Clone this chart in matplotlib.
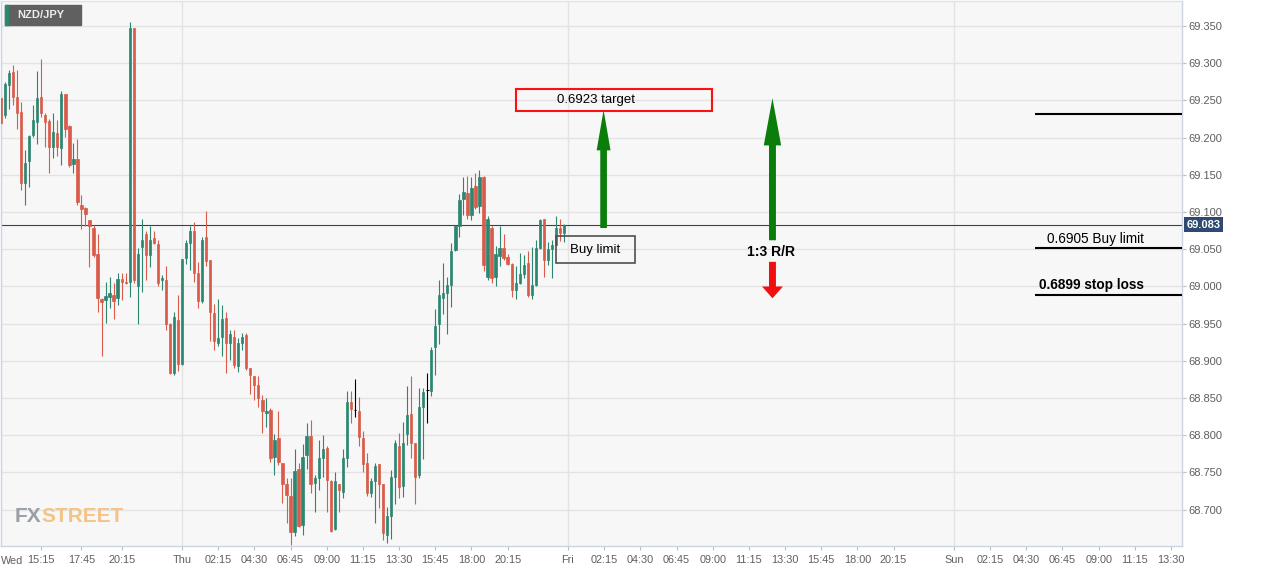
import matplotlib
matplotlib.use("Agg")
import matplotlib.pyplot as plt
from matplotlib.patches import Rectangle, FancyArrowPatch, ArrowStyle
from matplotlib.transforms import blended_transform_factory

plt.rcParams['font.family'] = ['Liberation Sans', 'DejaVu Sans']

# 15 minute candles, first one opens Wed 12:45 (minutes counted from Thu 00:00, Saturday skipped)
start_minute = -675
step = 15

opens = [69.253, 69.230, 69.271, 69.288, 69.255, 69.235, 69.139, 69.168, 69.203, 69.221,
         69.255, 69.231, 69.222, 69.187, 69.206, 69.186, 69.258, 69.216, 69.164, 69.171,
         69.110, 69.106, 69.089, 69.078, 69.043, 68.983, 68.982, 68.986, 68.988, 68.984,
         69.010, 69.006, 69.006, 69.347, 69.001, 69.053, 69.070, 69.042, 69.065, 69.057,
         69.008, 69.009, 68.950, 68.884, 68.955, 68.896, 69.038, 69.058, 69.074, 69.018,
         68.980, 69.066, 69.036, 68.964, 68.924, 68.932, 68.958, 68.924, 68.932, 68.893,
         68.924, 68.935, 68.891, 68.879, 68.868, 68.848, 68.830, 68.834, 68.771, 68.796,
         68.762, 68.734, 68.718, 68.670, 68.754, 68.679, 68.773, 68.799, 68.736, 68.742,
         68.769, 68.783, 68.738, 68.674, 68.734, 68.724, 68.769, 68.844, 68.834, 68.832,
         68.796, 68.763, 68.722, 68.739, 68.761, 68.734, 68.666, 68.691, 68.744, 68.785,
         68.732, 68.802, 68.829, 68.789, 68.746, 68.838, 68.861, 68.860, 68.918, 68.949,
         68.985, 68.991, 69.002, 69.049, 69.081, 69.118, 69.126, 69.096, 69.135, 69.108,
         69.147, 69.013, 69.078, 69.013, 69.041, 69.051, 69.039, 69.030, 68.995, 69.004,
         69.017, 69.032, 68.988, 69.002, 69.052, 69.090, 69.035, 69.050, 69.056, 69.078,
         69.072]
highs = [69.257, 69.275, 69.291, 69.298, 69.291, 69.248, 69.183, 69.203, 69.244, 69.289,
         69.305, 69.233, 69.225, 69.233, 69.224, 69.262, 69.258, 69.217, 69.193, 69.198,
         69.123, 69.107, 69.089, 69.083, 69.070, 68.984, 69.006, 69.013, 69.004, 69.018,
         69.018, 69.018, 69.356, 69.347, 69.051, 69.090, 69.074, 69.081, 69.075, 69.063,
         69.015, 69.027, 68.951, 68.965, 68.989, 69.037, 69.062, 69.081, 69.086, 69.033,
         69.066, 69.101, 69.036, 68.977, 68.983, 68.975, 68.966, 68.941, 68.942, 68.930,
         68.938, 68.938, 68.891, 68.879, 68.880, 68.854, 68.850, 68.836, 68.801, 68.832,
         68.762, 68.743, 68.742, 68.781, 68.763, 68.788, 68.816, 68.821, 68.747, 68.794,
         68.800, 68.786, 68.740, 68.750, 68.735, 68.781, 68.859, 68.859, 68.875, 68.852,
         68.805, 68.776, 68.742, 68.763, 68.761, 68.735, 68.703, 68.753, 68.794, 68.803,
         68.818, 68.866, 68.879, 68.789, 68.863, 68.863, 68.883, 68.919, 68.970, 69.009,
         69.031, 69.013, 69.058, 69.082, 69.124, 69.147, 69.148, 69.147, 69.152, 69.157,
         69.148, 69.094, 69.081, 69.054, 69.081, 69.071, 69.044, 69.031, 69.027, 69.045,
         69.042, 69.047, 69.053, 69.062, 69.090, 69.091, 69.060, 69.062, 69.094, 69.090,
         69.084]
lows = [69.217, 69.226, 69.238, 69.244, 69.211, 69.130, 69.109, 69.134, 69.201, 69.192,
        69.228, 69.188, 69.152, 69.173, 69.175, 69.163, 69.201, 69.161, 69.152, 69.109,
        69.077, 69.081, 69.026, 69.039, 68.966, 68.906, 68.951, 68.971, 68.956, 68.975,
        68.982, 69.003, 68.986, 69.004, 68.950, 68.992, 69.009, 69.026, 69.057, 69.001,
        68.995, 68.942, 68.882, 68.881, 68.886, 68.895, 69.030, 69.022, 69.006, 68.971,
        68.978, 69.027, 68.926, 68.915, 68.920, 68.907, 68.883, 68.901, 68.891, 68.885,
        68.915, 68.888, 68.856, 68.848, 68.838, 68.803, 68.811, 68.764, 68.746, 68.760,
        68.709, 68.682, 68.652, 68.664, 68.676, 68.666, 68.755, 68.723, 68.697, 68.726,
        68.744, 68.697, 68.670, 68.673, 68.697, 68.715, 68.757, 68.816, 68.825, 68.785,
        68.750, 68.718, 68.717, 68.682, 68.702, 68.659, 68.655, 68.661, 68.708, 68.715,
        68.717, 68.787, 68.769, 68.707, 68.742, 68.768, 68.816, 68.853, 68.881, 68.923,
        68.963, 68.936, 68.972, 69.047, 69.066, 69.096, 69.091, 69.089, 69.104, 69.098,
        69.021, 69.009, 69.004, 69.000, 69.027, 69.035, 69.029, 68.986, 68.983, 69.003,
        69.011, 68.986, 68.983, 69.000, 69.050, 69.013, 69.029, 69.011, 69.056, 69.061,
        69.060]
closes = [69.219, 69.272, 69.287, 69.254, 69.233, 69.139, 69.166, 69.202, 69.224, 69.253,
          69.233, 69.221, 69.188, 69.207, 69.187, 69.259, 69.211, 69.163, 69.171, 69.113,
          69.104, 69.097, 69.081, 69.042, 68.984, 68.979, 68.987, 68.991, 68.981, 69.010,
          69.006, 69.004, 69.347, 69.008, 69.044, 69.062, 69.042, 69.062, 69.058, 69.004,
          69.011, 68.950, 68.883, 68.959, 68.896, 69.037, 69.058, 69.074, 69.018, 68.980,
          69.062, 69.034, 68.965, 68.927, 68.930, 68.956, 68.924, 68.936, 68.894, 68.924,
          68.932, 68.890, 68.881, 68.868, 68.850, 68.833, 68.833, 68.769, 68.794, 68.764,
          68.735, 68.720, 68.670, 68.752, 68.678, 68.771, 68.799, 68.734, 68.743, 68.769,
          68.781, 68.740, 68.671, 68.738, 68.726, 68.769, 68.844, 68.835, 68.834, 68.797,
          68.761, 68.722, 68.739, 68.759, 68.735, 68.668, 68.691, 68.744, 68.789, 68.731,
          68.789, 68.827, 68.789, 68.744, 68.838, 68.858, 68.861, 68.915, 68.947, 68.988,
          68.991, 69.002, 69.047, 69.081, 69.116, 69.127, 69.096, 69.132, 69.107, 69.147,
          69.029, 69.091, 69.011, 69.044, 69.052, 69.038, 69.030, 68.995, 69.004, 69.017,
          69.029, 68.988, 69.002, 69.052, 69.089, 69.036, 69.050, 69.056, 69.079, 69.072,
          69.083]

tick_pos = [-525, -375, -225, 0, 135, 270, 405, 540, 675, 810, 945, 1080, 1215,
            1440, 1575, 1710, 1845, 1980, 2115, 2250, 2385, 2520, 2655,
            2880, 3015, 3150, 3285, 3420, 3555, 3690]
tick_labels = ['15:15', '17:45', '20:15', 'Thu', '02:15', '04:30', '06:45', '09:00', '11:15',
               '13:30', '15:45', '18:00', '20:15', 'Fri', '02:15', '04:30', '06:45', '09:00',
               '11:15', '13:30', '15:45', '18:00', '20:15', 'Sun', '02:15', '04:30', '06:45',
               '09:00', '11:15', '13:30']
day_starts = [0, 1440, 2880]
price_ticks = [68.70, 68.75, 68.80, 68.85, 68.90, 68.95, 69.00, 69.05, 69.10, 69.15,
               69.20, 69.25, 69.30, 69.35]

# levels drawn by hand on the chart
level_prices = [69.232, 69.052, 68.989]

up_col = '#2c8670'
down_col = '#d95b4a'

W, H = 1266, 569
fig = plt.figure(figsize=(W / 100, H / 100), dpi=100)
ax = fig.add_axes([0.5 / W, 1 - 546 / H, 1181.8 / W, 545 / H])
ax.set_facecolor('#f7f7f7')
ax.set_xlim(-677, 3732)
ax.set_ylim(68.6511, 69.3836)

for v in price_ticks:
    ax.axhline(v, color='#e3e3e3', lw=1, zorder=0)
for d in day_starts:
    ax.axvline(d, color='#e3e3e3', lw=1, zorder=0)

ax.axhline(closes[-1], color='#2f4263', lw=0.8, zorder=1)

for i in range(len(opens)):
    x = start_minute + i * step
    o, h, l, c = opens[i], highs[i], lows[i], closes[i]
    if c > o:
        col = up_col
    elif c < o:
        col = down_col
    else:
        col = 'black'
    ax.vlines(x, l, h, color=col, lw=0.8, zorder=2)
    if c == o:
        ax.hlines(o, x - 5, x + 5, color=col, lw=0.8, zorder=3)
    else:
        ax.bar(x, abs(c - o), bottom=min(o, c), width=8.5, color=col,
               edgecolor=col, lw=0.5, zorder=3)

ax.set_xticks(tick_pos)
ax.set_xticklabels(tick_labels)
ax.yaxis.tick_right()
ax.set_yticks(price_ticks)
ax.set_yticklabels(['%.3f' % v for v in price_ticks])
ax.tick_params(axis='x', length=3, width=0.8, color='#b5bdcf', labelsize=7.8,
               labelcolor='#5f5f5f', pad=3.5)
ax.tick_params(axis='y', length=3, width=0.8, color='#b5bdcf', labelsize=8,
               labelcolor='#5f5f5f', pad=1.5)
for s in ax.spines.values():
    s.set_color('#cdd3e3')
    s.set_linewidth(1)
ax.spines['top'].set_color('#dde2ec')

fig.text(1 / W, 1 - 561 / H, 'Wed', ha='left', va='center', fontsize=7.8, color='#5f5f5f')

# current price tag
tag_tr = blended_transform_factory(ax.transAxes, ax.transData)
ax.text(1.0035, closes[-1], '%.3f' % closes[-1], transform=tag_tr, ha='left', va='center',
        fontsize=8, fontweight='bold', color='white', clip_on=False,
        bbox=dict(boxstyle='square,pad=0.2', fc='#2e4a70', ec='none'))

# symbol label
fig.patches.append(Rectangle((5 / W, 1 - 25 / H), 76 / W, 20 / H, transform=fig.transFigure,
                             color='#606060', zorder=5))
fig.patches.append(Rectangle((5 / W, 1 - 25 / H), 2.5 / W, 20 / H, transform=fig.transFigure,
                             color='#2c8670', zorder=6))
fig.text(17 / W, 1 - 15.5 / H, 'NZD/JPY', ha='left', va='center', fontsize=8,
         fontweight='bold', color='#ececec', zorder=7)

# watermark, two colours side by side
wm_font = dict(fontsize=15, fontweight='bold')
fx = fig.text(15 / W, 1 - 522 / H, 'FX', ha='left', va='baseline', color='#9a9ea7', **wm_font)
fx_box = fx.get_window_extent(renderer=fig.canvas.get_renderer())
fig.text(fx_box.x1 / W, 1 - 522 / H, 'STREET', ha='left', va='baseline', color='#f3c486', **wm_font)

# trade plan drawings
ax.add_patch(Rectangle((1245, 69.236), 734, 0.029, fill=False, ec='#ff1010', lw=1.5, zorder=6))
ax.text(1543, 69.2505, '0.6923 target', ha='center', va='center', fontsize=9.5, zorder=7)

ax.add_patch(Rectangle((1394, 69.031), 298, 0.037, fill=False, ec='#505050', lw=1.2, zorder=6))
ax.text(1543, 69.0495, 'Buy limit', ha='center', va='center', fontsize=9.5, zorder=7)

ax.add_patch(FancyArrowPatch((1573, 69.0785), (1573, 69.237), shrinkA=0, shrinkB=0,
                             arrowstyle=ArrowStyle.Simple(head_length=29, head_width=10, tail_width=4.8),
                             mutation_scale=1, color='#0a7d0a', lw=0, zorder=6))
ax.add_patch(FancyArrowPatch((2203, 69.062), (2203, 69.253), shrinkA=0, shrinkB=0,
                             arrowstyle=ArrowStyle.Simple(head_length=34, head_width=12.5, tail_width=5),
                             mutation_scale=1, color='#0a7d0a', lw=0, zorder=6))
ax.add_patch(FancyArrowPatch((2203, 69.033), (2203, 68.984), shrinkA=0, shrinkB=0,
                             arrowstyle=ArrowStyle.Simple(head_length=8.5, head_width=15, tail_width=5),
                             mutation_scale=1, color='#f01010', lw=0, zorder=6))
ax.text(2196, 69.046, '1:3 R/R', ha='center', va='center', fontsize=10, fontweight='bold', zorder=7)

ax.hlines(level_prices, 3183, 3732, color='black', lw=1.5, zorder=6)
ax.text(3228, 69.064, '0.6905 Buy limit', ha='left', va='center', fontsize=9.8, zorder=7)
ax.text(3198, 69.0015, '0.6899 stop loss', ha='left', va='center', fontsize=9.8,
        fontweight='bold', zorder=7)

fig.savefig('out.png', dpi=100, facecolor='white')
